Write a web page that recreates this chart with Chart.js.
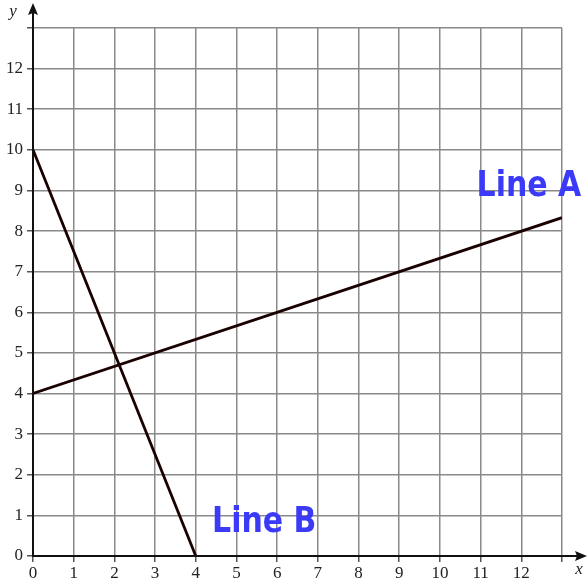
<!DOCTYPE html>
<html>
<head>
<meta charset="utf-8">
<script src="https://cdn.jsdelivr.net/npm/chart.js@4"></script>
<style>
html,body{margin:0;padding:0;background:#fff;}
#wrap{width:587px;height:583px;position:relative;}
</style>
</head>
<body>
<div id="wrap"><canvas id="c" width="587" height="583"></canvas></div>
<script>
// Data
const lineAx = [0, 13];
const lineAy = [4, 8.33];
const lineBx = [0, 4];
const lineBy = [10, 0];
const xTicks = [0,1,2,3,4,5,6,7,8,9,10,11,12];
const yTicks = [0,1,2,3,4,5,6,7,8,9,10,11,12];
const labelA = {text: 'Line A', x: 10.9, y: 9.1};
const labelB = {text: 'Line B', x: 4.4, y: 0.82};

const pts = (xs, ys) => xs.map((x, i) => ({x: x, y: ys[i]}));

const decor = {
  id: 'decor',
  afterDraw(chart) {
    const ctx = chart.ctx;
    const xs = chart.scales.x, ys = chart.scales.y;
    const x0 = xs.getPixelForValue(0), y0 = ys.getPixelForValue(0);
    const top = chart.chartArea.top, right = chart.chartArea.right;
    ctx.save();
    ctx.strokeStyle = '#111';
    ctx.fillStyle = '#111';
    ctx.lineWidth = 2;
    ctx.beginPath();
    ctx.moveTo(x0, y0); ctx.lineTo(right + 18, y0); ctx.stroke();
    ctx.beginPath();
    ctx.moveTo(right + 25, y0); ctx.lineTo(right + 13, y0 - 5); ctx.lineTo(right + 15, y0); ctx.lineTo(right + 13, y0 + 5); ctx.closePath(); ctx.fill();
    ctx.beginPath();
    ctx.moveTo(x0, y0); ctx.lineTo(x0, top - 18); ctx.stroke();
    ctx.beginPath();
    ctx.moveTo(x0, top - 25); ctx.lineTo(x0 - 5, top - 13); ctx.lineTo(x0, top - 15); ctx.lineTo(x0 + 5, top - 13); ctx.closePath(); ctx.fill();
    ctx.font = 'italic 17px "Liberation Serif"';
    ctx.fillStyle = '#222';
    ctx.textAlign = 'center';
    ctx.textBaseline = 'middle';
    ctx.fillText('x', right + 17, y0 + 14);
    ctx.fillText('y', x0 - 20, top - 16);
    ctx.font = 'bold 30px "DejaVu Sans"';
    ctx.fillStyle = '#3a3af8';
    ctx.textAlign = 'left';
    ctx.textBaseline = 'middle';
    [labelA, labelB].forEach(l => {
      const px = xs.getPixelForValue(l.x), py = ys.getPixelForValue(l.y);
      ctx.save();
      ctx.translate(px, py);
      ctx.scale(1, 1.2);
      ctx.fillText(l.text, 0, 0);
      ctx.restore();
    });
    ctx.restore();
  }
};

const lineStyle = (data) => ({
  data: data, borderColor: '#1a0000', borderWidth: 2.8, pointRadius: 0, fill: false, tension: 0, showLine: true
});

const tickFont = {family: '"Liberation Serif"', size: 17};

new Chart(document.getElementById('c'), {
  type: 'scatter',
  data: {
    datasets: [
      lineStyle(pts(lineAx, lineAy)),
      lineStyle(pts(lineBx, lineBy))
    ]
  },
  options: {
    responsive: false,
    animation: false,
    devicePixelRatio: 1,
    layout: {padding: {left: 0, top: 28, right: 25, bottom: 0}},
    plugins: {legend: {display: false}, tooltip: {enabled: false}},
    scales: {
      x: {
        type: 'linear', min: 0, max: 13,
        afterFit: s => { s.height = 27; },
        afterBuildTicks: s => { s.ticks = xTicks.concat([13]).map(v => ({value: v})); },
        ticks: {
          padding: 1, color: '#222', font: tickFont,
          callback: v => xTicks.includes(v) ? String(v) : ''
        },
        grid: {color: '#8a8a8a', lineWidth: 1.5, tickLength: 6, tickColor: '#555'},
        border: {color: '#111', width: 2}
      },
      y: {
        type: 'linear', min: 0, max: 13,
        afterFit: s => { s.width = 33; },
        afterBuildTicks: s => { s.ticks = yTicks.concat([13]).map(v => ({value: v})); },
        ticks: {
          padding: 4, color: '#222', font: tickFont,
          callback: v => yTicks.includes(v) ? String(v) : ''
        },
        grid: {color: '#8a8a8a', lineWidth: 1.5, tickLength: 6, tickColor: '#555'},
        border: {color: '#111', width: 2}
      }
    }
  },
  plugins: [decor]
});
</script>
</body>
</html>
